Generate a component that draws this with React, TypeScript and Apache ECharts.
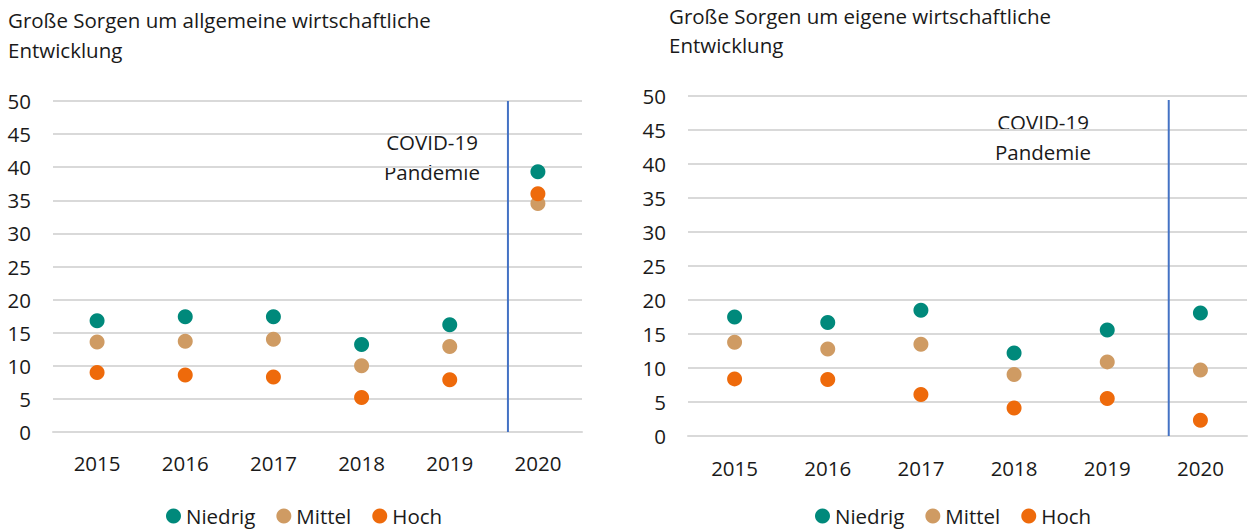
import React, { useEffect, useRef } from "react";
import * as echarts from "echarts";

const years = ["2015", "2016", "2017", "2018", "2019", "2020"];
const seriesNames = ["Niedrig", "Mittel", "Hoch"];

const allgNiedrig = [16.8, 17.4, 17.4, 13.2, 16.2, 39.3];
const allgMittel = [13.6, 13.7, 14.0, 10.0, 12.9, 34.5];
const allgHoch = [9.0, 8.6, 8.3, 5.2, 7.9, 36.0];

const eigenNiedrig = [17.5, 16.7, 18.5, 12.2, 15.6, 18.1];
const eigenMittel = [13.8, 12.8, 13.5, 9.05, 10.9, 9.7];
const eigenHoch = [8.4, 8.3, 6.1, 4.1, 5.5, 2.3];

const yTicks = { min: 0, max: 50, interval: 5 };
const covidLineX = 4.66;
const covidLineLeft = [0, 50];
const covidLineRight = [0, 49.4];

const colors = ["#00897b", "#cf9b63", "#ee6a0b"];
const FONT = "Open Sans";
const TXT = "#1a1a1a";
const FS = 20.5;

export default function App() {
  const ref = useRef<HTMLDivElement>(null);
  useEffect(() => {
    document.body.style.margin = "0";
    const chart = echarts.init(ref.current!, null, { renderer: "svg" });
    const grids = [
      { left: 53, top: 101, width: 529, height: 331 },
      { left: 688, top: 96, width: 559, height: 340 },
    ];
    const mkCat = (gi: number, margin: number) => ({
      type: "category",
      gridIndex: gi,
      data: years,
      boundaryGap: true,
      axisLine: { show: true, lineStyle: { color: "#d9d9d9", width: 2 } },
      axisTick: { show: false },
      axisLabel: { color: TXT, fontFamily: FONT, fontSize: FS, margin },
    });
    const mkVal = (gi: number) => ({
      type: "value",
      gridIndex: gi,
      min: -0.5,
      max: 5.5,
      show: false,
    });
    const mkY = (gi: number) => ({
      type: "value",
      gridIndex: gi,
      min: yTicks.min,
      max: yTicks.max,
      interval: yTicks.interval,
      axisLine: { show: false },
      axisTick: { show: false },
      axisLabel: { color: TXT, fontFamily: FONT, fontSize: FS, margin: 22 },
      splitLine: { lineStyle: { color: "#d9d9d9", width: 2 } },
    });
    const data = [
      [allgNiedrig, allgMittel, allgHoch],
      [eigenNiedrig, eigenMittel, eigenHoch],
    ];
    const scatterSeries: any[] = [];
    data.forEach((set, gi) => {
      set.forEach((vals, si) => {
        scatterSeries.push({
          type: "scatter",
          name: seriesNames[si],
          xAxisIndex: gi * 2,
          yAxisIndex: gi,
          data: vals,
          symbol: "circle",
          symbolSize: 15,
          itemStyle: { color: colors[si], opacity: 1 },
          z: 3 + (si === 2 ? 1 : 0),
        });
      });
    });
    const lineSeries = [covidLineLeft, covidLineRight].map((ys, gi) => ({
      type: "line",
      name: "covid" + gi,
      xAxisIndex: gi * 2 + 1,
      yAxisIndex: gi,
      data: ys.map((y) => [covidLineX, y]),
      symbol: "none",
      lineStyle: { color: "#4472c4", width: 2 },
      z: 2,
      silent: true,
    }));
    const legendBase = {
      data: seriesNames,
      icon: "circle",
      itemWidth: 15,
      itemHeight: 15,
      itemGap: 21,
      padding: 0,
      textStyle: { color: TXT, fontFamily: FONT, fontSize: FS, lineHeight: 22 },
      top: 505,
    };
    const covidText = (x: number, y: number) => ({
      type: "text",
      x,
      y,
      style: {
        text: "COVID-19\nPandemie",
        fill: TXT,
        fontFamily: FONT,
        fontSize: FS,
        lineHeight: 30,
        textAlign: "center",
        textVerticalAlign: "top",
      },
    });
    chart.setOption({
      animation: false,
      color: colors,
      title: [
        {
          text: "Große Sorgen um allgemeine wirtschaftliche\nEntwicklung",
          left: 8,
          top: 5,
          padding: 0,
          textStyle: { color: TXT, fontFamily: FONT, fontSize: FS, fontWeight: "normal", lineHeight: 30 },
        },
        {
          text: "Große Sorgen um eigene wirtschaftliche\nEntwicklung",
          left: 669,
          top: 1,
          padding: 0,
          textStyle: { color: TXT, fontFamily: FONT, fontSize: FS, fontWeight: "normal", lineHeight: 29 },
        },
      ],
      legend: [
        { ...legendBase, left: 166 },
        { ...legendBase, left: 815 },
      ],
      grid: grids,
      xAxis: [mkCat(0, 20), mkVal(0), mkCat(1, 21), mkVal(1)],
      yAxis: [mkY(0), mkY(1)],
      graphic: [covidText(432, 127), covidText(1043, 107)],
      series: [...lineSeries, ...scatterSeries],
    });
    return () => chart.dispose();
  }, []);
  return <div ref={ref} style={{ width: 1248, height: 529 }} />;
}
